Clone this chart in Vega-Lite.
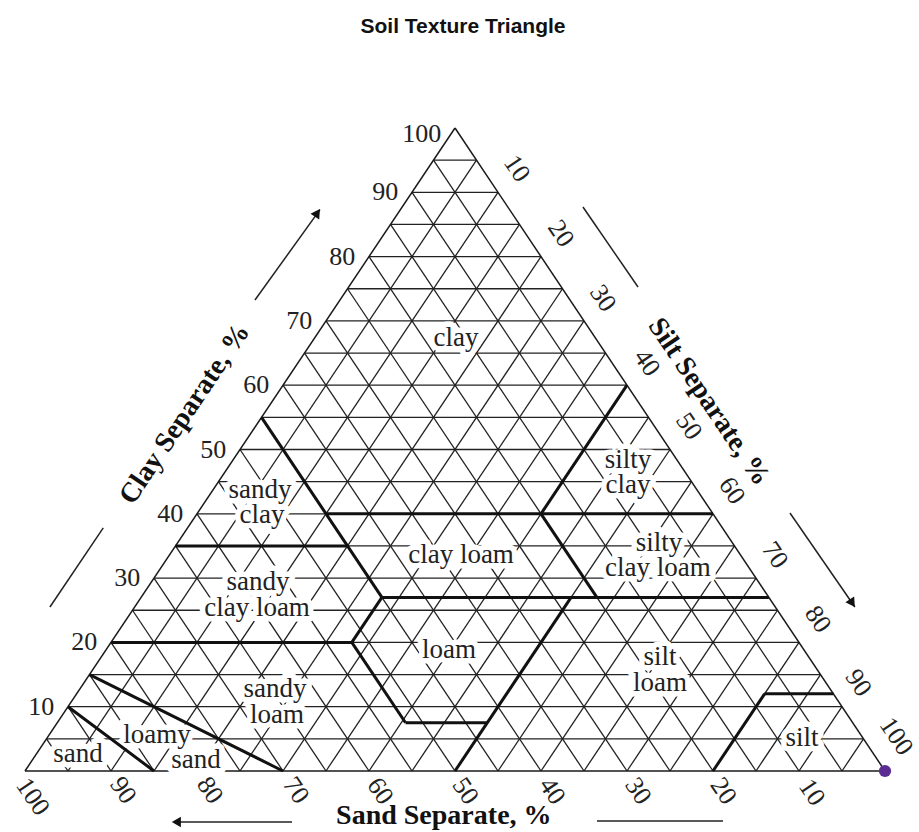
{
  "$schema": "https://vega.github.io/schema/vega-lite/v6.json",
  "width": 860,
  "height": 643,
  "autosize": "none",
  "padding": {"left": 25, "top": 128, "right": 34, "bottom": 61},
  "background": "white",
  "title": {"text": "Soil Texture Triangle", "font": "Liberation Sans", "fontSize": 21, "fontWeight": "bold", "color": "#111111", "anchor": "middle", "frame": "group", "offset": 84, "dx": 8},
  "config": {"view": {"stroke": null}},
  "datasets": {
    "grid": [
      {"x": 2.5, "y": 5, "x2": 97.5, "y2": 5}, {"x": 5, "y": 10, "x2": 95, "y2": 10}, {"x": 7.5, "y": 15, "x2": 92.5, "y2": 15}, {"x": 10, "y": 20, "x2": 90, "y2": 20}, {"x": 12.5, "y": 25, "x2": 87.5, "y2": 25}, {"x": 15, "y": 30, "x2": 85, "y2": 30}, {"x": 17.5, "y": 35, "x2": 82.5, "y2": 35}, {"x": 20, "y": 40, "x2": 80, "y2": 40}, {"x": 22.5, "y": 45, "x2": 77.5, "y2": 45}, {"x": 25, "y": 50, "x2": 75, "y2": 50}, {"x": 27.5, "y": 55, "x2": 72.5, "y2": 55}, {"x": 30, "y": 60, "x2": 70, "y2": 60}, {"x": 32.5, "y": 65, "x2": 67.5, "y2": 65}, {"x": 35, "y": 70, "x2": 65, "y2": 70}, {"x": 37.5, "y": 75, "x2": 62.5, "y2": 75}, {"x": 40, "y": 80, "x2": 60, "y2": 80}, {"x": 42.5, "y": 85, "x2": 57.5, "y2": 85}, {"x": 45, "y": 90, "x2": 55, "y2": 90}, {"x": 47.5, "y": 95, "x2": 52.5, "y2": 95},
      {"x": 5, "y": 0, "x2": 52.5, "y2": 95}, {"x": 10, "y": 0, "x2": 55, "y2": 90}, {"x": 15, "y": 0, "x2": 57.5, "y2": 85}, {"x": 20, "y": 0, "x2": 60, "y2": 80}, {"x": 25, "y": 0, "x2": 62.5, "y2": 75}, {"x": 30, "y": 0, "x2": 65, "y2": 70}, {"x": 35, "y": 0, "x2": 67.5, "y2": 65}, {"x": 40, "y": 0, "x2": 70, "y2": 60}, {"x": 45, "y": 0, "x2": 72.5, "y2": 55}, {"x": 50, "y": 0, "x2": 75, "y2": 50}, {"x": 55, "y": 0, "x2": 77.5, "y2": 45}, {"x": 60, "y": 0, "x2": 80, "y2": 40}, {"x": 65, "y": 0, "x2": 82.5, "y2": 35}, {"x": 70, "y": 0, "x2": 85, "y2": 30}, {"x": 75, "y": 0, "x2": 87.5, "y2": 25}, {"x": 80, "y": 0, "x2": 90, "y2": 20}, {"x": 85, "y": 0, "x2": 92.5, "y2": 15}, {"x": 90, "y": 0, "x2": 95, "y2": 10}, {"x": 95, "y": 0, "x2": 97.5, "y2": 5},
      {"x": 5, "y": 0, "x2": 2.5, "y2": 5}, {"x": 10, "y": 0, "x2": 5, "y2": 10}, {"x": 15, "y": 0, "x2": 7.5, "y2": 15}, {"x": 20, "y": 0, "x2": 10, "y2": 20}, {"x": 25, "y": 0, "x2": 12.5, "y2": 25}, {"x": 30, "y": 0, "x2": 15, "y2": 30}, {"x": 35, "y": 0, "x2": 17.5, "y2": 35}, {"x": 40, "y": 0, "x2": 20, "y2": 40}, {"x": 45, "y": 0, "x2": 22.5, "y2": 45}, {"x": 50, "y": 0, "x2": 25, "y2": 50}, {"x": 55, "y": 0, "x2": 27.5, "y2": 55}, {"x": 60, "y": 0, "x2": 30, "y2": 60}, {"x": 65, "y": 0, "x2": 32.5, "y2": 65}, {"x": 70, "y": 0, "x2": 35, "y2": 70}, {"x": 75, "y": 0, "x2": 37.5, "y2": 75}, {"x": 80, "y": 0, "x2": 40, "y2": 80}, {"x": 85, "y": 0, "x2": 42.5, "y2": 85}, {"x": 90, "y": 0, "x2": 45, "y2": 90}, {"x": 95, "y": 0, "x2": 47.5, "y2": 95}
    ],
    "outline": [
      {"x": 0, "y": 0, "x2": 100, "y2": 0}, {"x": 0, "y": 0, "x2": 50, "y2": 100}, {"x": 100, "y": 0, "x2": 50, "y2": 100}
    ],
    "bounds": [
      {"x": 5, "y": 10, "x2": 15, "y2": 0},
      {"x": 7.5, "y": 15, "x2": 30, "y2": 0},
      {"x": 10, "y": 20, "x2": 38, "y2": 20},
      {"x": 38, "y": 20, "x2": 44.25, "y2": 7.5},
      {"x": 44.25, "y": 7.5, "x2": 53.75, "y2": 7.5},
      {"x": 50, "y": 0, "x2": 63.5, "y2": 27},
      {"x": 38, "y": 20, "x2": 41.5, "y2": 27},
      {"x": 41.5, "y": 27, "x2": 86.5, "y2": 27},
      {"x": 41.5, "y": 27, "x2": 27.5, "y2": 55},
      {"x": 17.5, "y": 35, "x2": 37.5, "y2": 35},
      {"x": 35, "y": 40, "x2": 80, "y2": 40},
      {"x": 66.5, "y": 27, "x2": 60, "y2": 40},
      {"x": 60, "y": 40, "x2": 70, "y2": 60},
      {"x": 80, "y": 0, "x2": 86, "y2": 12},
      {"x": 86, "y": 12, "x2": 94, "y2": 12}
    ],
    "arrows": [
      {"x": 26.74, "y": 73.25, "x2": 34.3, "y2": 87.3},
      {"x": 2.9, "y": 25.5, "x2": 9.1, "y2": 37.8},
      {"x": 64.88, "y": 87.71, "x2": 71.28, "y2": 75.27},
      {"x": 88.95, "y": 40.12, "x2": 96.5, "y2": 25.5},
      {"x": 31.05, "y": -7.93, "x2": 18.0, "y2": -7.93},
      {"x": 66.51, "y": -7.78, "x2": 81.16, "y2": -7.78}
    ],
    "heads": [
      {"x": 34.0, "y": 86.8, "a": 34},
      {"x": 96.2, "y": 26.1, "a": 146},
      {"x": 17.6, "y": -7.93, "a": 270}
    ],
    "classes": [
      {"x": 50.12, "y": 67.34, "t": "clay"},
      {"x": 27.33, "y": 43.7, "t": "sandy"},
      {"x": 27.56, "y": 39.81, "t": "clay"},
      {"x": 50.7, "y": 33.59, "t": "clay loam"},
      {"x": 27.09, "y": 29.39, "t": "sandy"},
      {"x": 26.98, "y": 25.35, "t": "clay loam"},
      {"x": 49.3, "y": 18.82, "t": "loam"},
      {"x": 29.07, "y": 12.75, "t": "sandy"},
      {"x": 29.3, "y": 8.71, "t": "loam"},
      {"x": 15.35, "y": 5.6, "t": "loamy"},
      {"x": 19.88, "y": 1.71, "t": "sand"},
      {"x": 6.16, "y": 2.64, "t": "sand"},
      {"x": 70.12, "y": 48.37, "t": "silty"},
      {"x": 70.12, "y": 44.48, "t": "clay"},
      {"x": 73.72, "y": 35.46, "t": "silty"},
      {"x": 73.6, "y": 31.57, "t": "clay loam"},
      {"x": 73.84, "y": 17.73, "t": "silt"},
      {"x": 73.84, "y": 13.69, "t": "loam"},
      {"x": 90.35, "y": 5.13, "t": "silt"}
    ],
    "clayTicks": [
      {"x": 3.4, "y": 10, "t": "10"}, {"x": 8.4, "y": 20, "t": "20"}, {"x": 13.4, "y": 30, "t": "30"}, {"x": 18.4, "y": 40, "t": "40"}, {"x": 23.4, "y": 50, "t": "50"}, {"x": 28.4, "y": 60, "t": "60"}, {"x": 33.4, "y": 70, "t": "70"}, {"x": 38.4, "y": 80, "t": "80"}, {"x": 43.4, "y": 90, "t": "90"}, {"x": 48.4, "y": 99.1, "t": "100"}
    ],
    "rotTicks": [
      {"x": 0.9, "y": -4.0, "t": "100"}, {"x": 11.4, "y": -3.0, "t": "90"}, {"x": 21.5, "y": -3.0, "t": "80"}, {"x": 31.5, "y": -3.0, "t": "70"}, {"x": 41.3, "y": -3.1, "t": "60"}, {"x": 51.2, "y": -3.1, "t": "50"}, {"x": 61.3, "y": -3.1, "t": "40"}, {"x": 71.3, "y": -3.1, "t": "30"}, {"x": 81.2, "y": -3.1, "t": "20"}, {"x": 91.5, "y": -3.3, "t": "10"},
      {"x": 57.2, "y": 93.7, "t": "10"}, {"x": 62.3, "y": 83.6, "t": "20"}, {"x": 67.2, "y": 73.5, "t": "30"}, {"x": 72.3, "y": 63.5, "t": "40"}, {"x": 77.2, "y": 53.6, "t": "50"}, {"x": 82.2, "y": 43.6, "t": "60"}, {"x": 87.2, "y": 33.6, "t": "70"}, {"x": 92.2, "y": 23.6, "t": "80"}, {"x": 96.9, "y": 13.7, "t": "90"}, {"x": 101.3, "y": 5.4, "t": "100"}
    ],
    "clayTitle": [{"x": 18.6, "y": 55.5, "t": "Clay Separate, %"}],
    "siltTitle": [{"x": 79.5, "y": 57.4, "t": "Silt Separate, %"}],
    "sandTitle": [{"x": 48.7, "y": -7.0, "t": "Sand Separate, %"}],
    "point": [{"x": 100, "y": 0}]
  },
  "encoding": {
    "x": {"field": "x", "type": "quantitative", "scale": {"domain": [0, 100], "nice": false, "zero": false}, "axis": null},
    "y": {"field": "y", "type": "quantitative", "scale": {"domain": [0, 100], "nice": false, "zero": false}, "axis": null}
  },
  "layer": [
    {"data": {"name": "grid"}, "mark": {"type": "rule", "color": "#222222", "strokeWidth": 1.3}, "encoding": {"x2": {"field": "x2"}, "y2": {"field": "y2"}}},
    {"data": {"name": "outline"}, "mark": {"type": "rule", "color": "#1a1a1a", "strokeWidth": 1.5}, "encoding": {"x2": {"field": "x2"}, "y2": {"field": "y2"}}},
    {"data": {"name": "classes"}, "mark": {"type": "text", "font": "Liberation Serif", "fontSize": 27, "align": "center", "baseline": "middle", "color": "white", "stroke": "white", "strokeWidth": 11, "strokeJoin": "round"}, "encoding": {"text": {"field": "t"}}},
    {"data": {"name": "bounds"}, "mark": {"type": "rule", "color": "#111111", "strokeWidth": 3}, "encoding": {"x2": {"field": "x2"}, "y2": {"field": "y2"}}},
    {"data": {"name": "classes"}, "mark": {"type": "text", "font": "Liberation Serif", "fontSize": 27, "align": "center", "baseline": "middle", "color": "#222222"}, "encoding": {"text": {"field": "t"}}},
    {"data": {"name": "arrows"}, "mark": {"type": "rule", "color": "#222222", "strokeWidth": 1.5}, "encoding": {"x2": {"field": "x2"}, "y2": {"field": "y2"}}},
    {"data": {"name": "heads"}, "mark": {"type": "point", "shape": "triangle-up", "filled": true, "size": 110, "color": "#111111", "opacity": 1}, "encoding": {"angle": {"field": "a", "type": "quantitative", "scale": null}}},
    {"data": {"name": "clayTicks"}, "mark": {"type": "text", "font": "Liberation Serif", "fontSize": 26, "align": "right", "baseline": "middle", "color": "#222222"}, "encoding": {"text": {"field": "t"}}},
    {"data": {"name": "rotTicks"}, "mark": {"type": "text", "font": "Liberation Serif", "fontSize": 26, "align": "center", "baseline": "middle", "angle": 56, "color": "#222222"}, "encoding": {"text": {"field": "t"}}},
    {"data": {"name": "clayTitle"}, "mark": {"type": "text", "font": "Liberation Serif", "fontSize": 28, "fontWeight": "bold", "align": "center", "baseline": "middle", "angle": 304, "color": "#111111"}, "encoding": {"text": {"field": "t"}}},
    {"data": {"name": "siltTitle"}, "mark": {"type": "text", "font": "Liberation Serif", "fontSize": 28, "fontWeight": "bold", "align": "center", "baseline": "middle", "angle": 56, "color": "#111111"}, "encoding": {"text": {"field": "t"}}},
    {"data": {"name": "sandTitle"}, "mark": {"type": "text", "font": "Liberation Serif", "fontSize": 28, "fontWeight": "bold", "align": "center", "baseline": "middle", "color": "#111111"}, "encoding": {"text": {"field": "t"}}},
    {"data": {"name": "point"}, "mark": {"type": "point", "filled": true, "size": 150, "color": "#5b2c91", "opacity": 1}}
  ]
}
